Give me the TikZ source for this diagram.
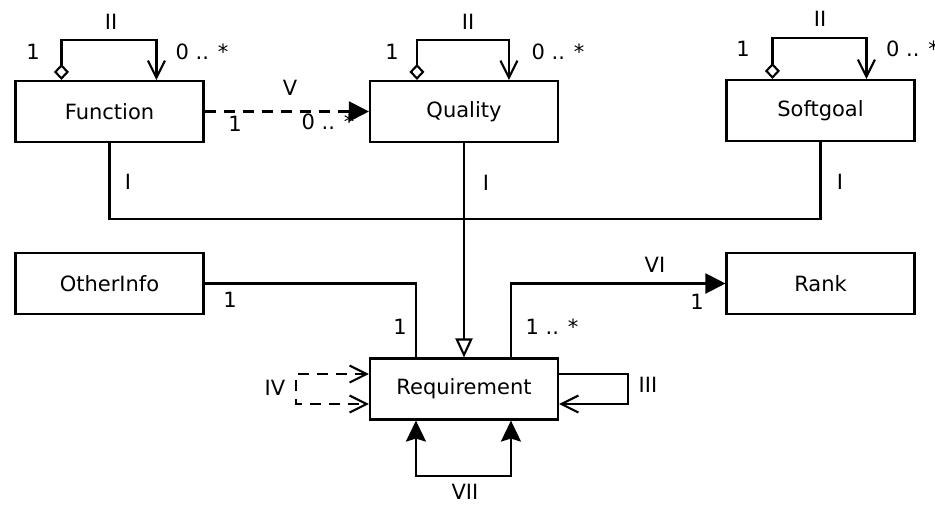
\documentclass[tikz,border=0pt]{standalone}
\usepackage{fontspec}
\setmainfont{DejaVu Sans}
\usetikzlibrary{arrows.meta}
\tikzset{
  box/.style={draw, line width=2.1pt, minimum width=188pt, minimum height=61pt, inner sep=0pt, font=\fontsize{21}{25}\selectfont},
  lbl/.style={inner sep=0pt, font=\fontsize{21}{25}\selectfont},
  conn/.style={line width=2.1pt},
  barb/.style={-{Straight Barb[length=17pt,width=17pt,line width=2.1pt]}},
  dmd/.style={{Diamond[open,length=16pt,width=15pt,line width=2.1pt]}-{Straight Barb[length=17pt,width=17pt,line width=2.1pt]}},
  solidhead/.style={-{Triangle[length=20pt,width=20pt]}},
  inh/.style={-{Triangle[open,length=19pt,width=17pt,line width=2.1pt]}}
}
\begin{document}
\begin{tikzpicture}[x=1pt,y=-1pt]
\useasboundingbox (0,0) rectangle (935,504);
% boxes
\node[box] (fun) at (109.5,111.5) {Function};
\node[box] (qual) at (464,111.5) {Quality};
\node[box] (soft) at (820.5,110.5) {Softgoal};
\node[box] (other) at (109.5,283.5) {OtherInfo};
\node[box] (rank) at (820.5,283.5) {Rank};
\node[box] (req) at (464,389) {Requirement};
% II self loops
\draw[conn,dmd] ([xshift=47pt]fun.north west) -- ++(0,-40) -| ([xshift=142pt]fun.north west);
\draw[conn,dmd] ([xshift=48pt]qual.north west) -- ++(0,-40) -| ([xshift=140pt]qual.north west);
\draw[conn,dmd] ([xshift=47pt]soft.north west) -- ++(0,-41) -| ([xshift=141pt]soft.north west);
\node[lbl] (l2a) at (111,22) {II};
\node[lbl] (l2b) at (468,22) {II};
\node[lbl] (l2c) at (820,19) {II};
\node[lbl] (m1a) at (33,52) {1};
\node[lbl] (m1b) at (392,52) {1};
\node[lbl] (m1c) at (743,49) {1};
\node[lbl] (m0a) at (202,52) {0 .. *};
\node[lbl] (m0b) at (558,52) {0 .. *};
\node[lbl,anchor=west] (m0c) at (886,49) {0 .. *};
% V
\draw[conn,dashed,dash pattern=on 11pt off 8pt,solidhead] (fun.east) -- (qual.west);
\node[lbl] (l5) at (290,88) {V};
\node[lbl] (l5a) at (235,124) {1};
\node[lbl] (l5b) at (328,122) {0 .. *};
% I generalization
\coordinate (j) at (464,219);
\draw[conn] (fun.south) |- (j) -| (soft.south);
\draw[conn,inh] (qual.south) -- (req.north);
\node[lbl] (l1a) at (128,182) {I};
\node[lbl] (l1b) at (486,183) {I};
\node[lbl] (l1c) at (840,182) {I};
% OtherInfo
\draw[conn] (other.east) -| ([xshift=47pt]req.north west);
\node[lbl] (o1) at (230,300) {1};
\node[lbl] (o2) at (400,327) {1};
% VI
\draw[conn,solidhead] ([xshift=142pt]req.north west) |- (rank.west);
\node[lbl] (l6) at (655,265) {VI};
\node[lbl] (l6a) at (697,302) {1};
\node[lbl] (l6b) at (552,327) {1 .. *};
% III
\draw[conn,barb] ([yshift=15pt]req.east) -- ++(69,0) |- ([yshift=-15pt]req.east);
\node[lbl] (l3) at (648,385) {III};
% IV
\draw[conn,dashed,dash pattern=on 11pt off 8pt,{Straight Barb[length=17pt,width=17pt,line width=2.1pt]}-{Straight Barb[length=17pt,width=17pt,line width=2.1pt]}] ([yshift=15pt]req.west) -- ++(-73,0) -- ++(0,30) -- ([yshift=-15pt]req.west);
\node[lbl] (l4) at (275,388) {IV};
% VII
\draw[conn,{Stealth[length=21pt,width=20pt,inset=3pt]}-{Stealth[length=21pt,width=20pt,inset=3pt]}] ([xshift=47pt]req.south west) -- ++(0,55) -| ([xshift=142pt]req.south west);
\node[lbl] (l7) at (465,492) {VII};
\end{tikzpicture}
\end{document}
